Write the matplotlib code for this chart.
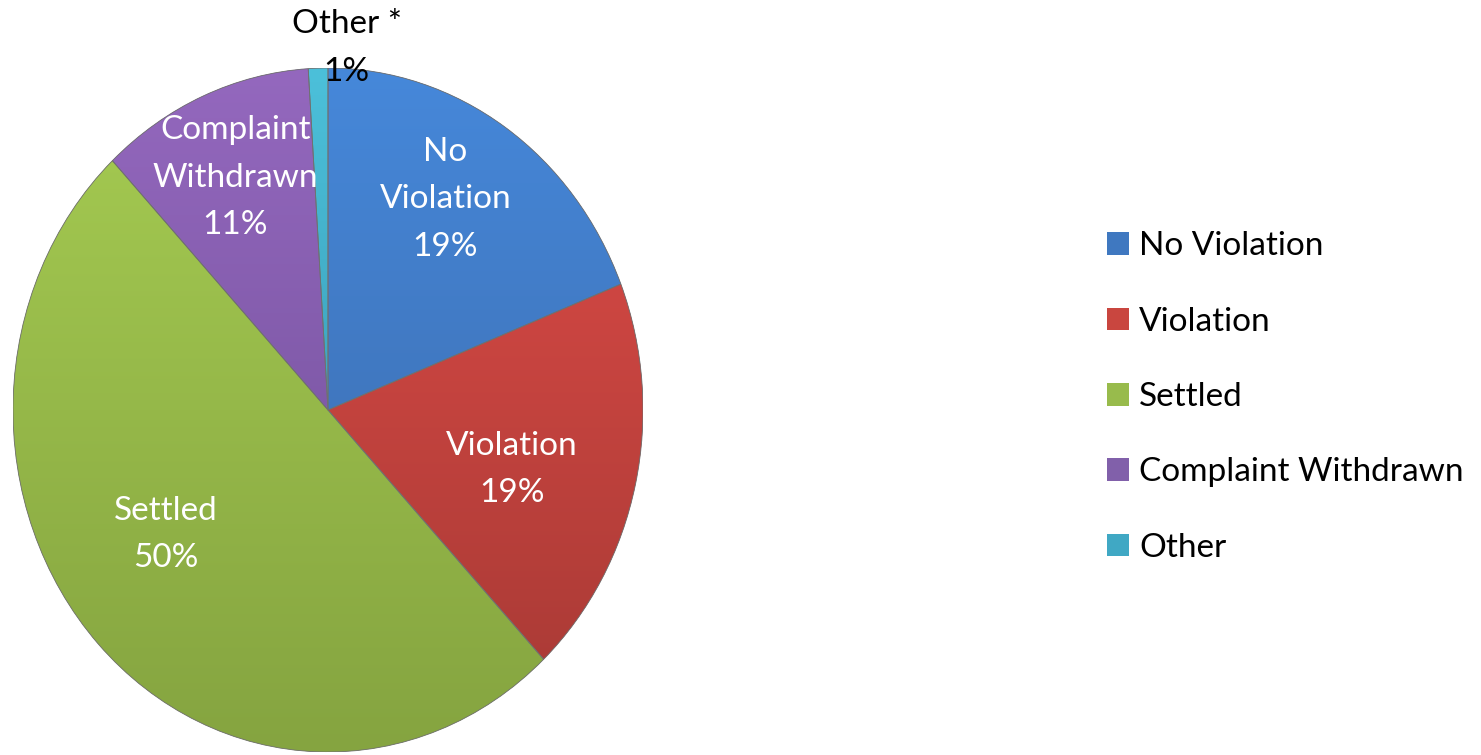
"""Case outcomes pie chart with legend on the right."""

import matplotlib.pyplot as plt
import numpy as np
from matplotlib.colors import LinearSegmentedColormap
from matplotlib.patches import Wedge

plt.rcParams["font.family"] = ["Lato", "DejaVu Sans"]

categories = ["No Violation", "Violation", "Settled", "Complaint Withdrawn", "Other"]
shares = [19, 19, 50, 11, 1]
slice_labels = ["No\nViolation", "Violation", "Settled", "Complaint\nWithdrawn", "Other *"]

# light (top) / dark (bottom) shade per slice
top_colors = ["#4688DA", "#E04C48", "#A6CC52", "#9468BE", "#4CC0DA"]
base_colors = ["#3F78C0", "#C9463F", "#98BB4C", "#8160AA", "#40A8C4"]
bottom_colors = ["#3A66A4", "#A53934", "#85A440", "#6C4C94", "#2E8AA4"]

W, H = 1481, 755
fig = plt.figure(figsize=(W / 100, H / 100), dpi=100)

cx, cy, rx, ry = 328, 410, 315, 342
ax = fig.add_axes([(cx - rx) / W, (H - cy - ry) / H, 2 * rx / W, 2 * ry / H])

wedges, _ = ax.pie(shares, colors=base_colors, startangle=90, counterclock=False,
                   radius=1, wedgeprops=dict(edgecolor="none"))
ax.set_aspect("auto")

# vertical gradient fill clipped to each wedge
grad = np.linspace(0, 1, 256).reshape(-1, 1)
for w, c0, c1 in zip(wedges, top_colors, bottom_colors):
    cmap = LinearSegmentedColormap.from_list("g", [c0, c1])
    im = ax.imshow(grad, cmap=cmap, extent=(-1, 1, -1, 1), origin="upper",
                   aspect="auto", zorder=w.get_zorder() + 0.1, interpolation="bilinear")
    im.set_clip_path(w)
    ax.add_patch(Wedge((0, 0), 1, w.theta1, w.theta2, facecolor="none",
                       edgecolor="#707070", linewidth=0.6,
                       zorder=w.get_zorder() + 0.2))
ax.set_xlim(-1, 1)
ax.set_ylim(-1, 1)
ax.axis("off")

# slice labels near each wedge's mid angle (radius, angle nudge in degrees)
label_radius = [0.72, 0.61, 0.63, 0.74, 1.06]
label_nudge = [3, -4, -8, 0, -5]
for w, name, pct, r, dt in zip(wedges, slice_labels, shares, label_radius, label_nudge):
    mid = np.deg2rad((w.theta1 + w.theta2) / 2 + dt)
    x, y = r * np.cos(mid), r * np.sin(mid)
    color = "black" if name.startswith("Other") else "white"
    ax.text(x, y, f"{name}\n{pct}%", ha="center", va="center", fontsize=24,
            color=color, linespacing=1.72, zorder=10, clip_on=False)

fig.legend(wedges, categories, loc="center left",
           bbox_to_anchor=(1077 / W, (H - 397) / H), frameon=False,
           fontsize=24, handlelength=0.66, handleheight=0.66,
           handletextpad=0.3, labelspacing=1.36)

fig.savefig("out.png", dpi=100)
